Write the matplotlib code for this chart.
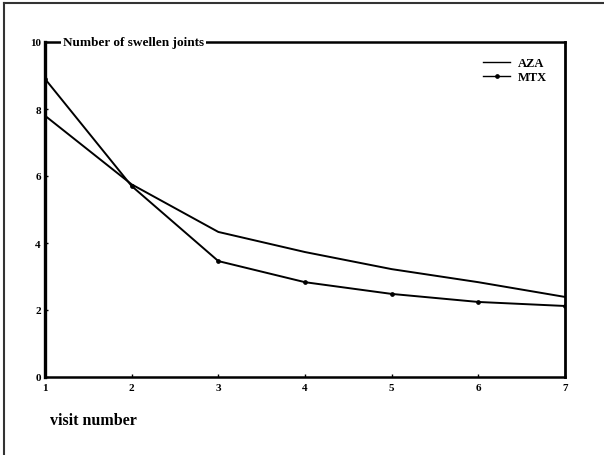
import matplotlib
matplotlib.use("Agg")
import matplotlib.pyplot as plt
from matplotlib.lines import Line2D

visits = [1, 2, 3, 4, 5, 6, 7]
aza = [7.8, 5.75, 4.33, 3.73, 3.22, 2.83, 2.39]
mtx = [8.9, 5.7, 3.46, 2.83, 2.48, 2.24, 2.12]
y_ticks = [0, 2, 4, 6, 8, 10]
x_ticks = [1, 2, 3, 4, 5, 6, 7]

serif = "Liberation Serif"
W, H = 604, 456
fig = plt.figure(figsize=(W / 100, H / 100), dpi=100)
fig.patch.set_facecolor("white")

ax = fig.add_axes([45 / W, 1 - 378 / H, 520 / W, 335 / H])
ax.set_xlim(1, 7)
ax.set_ylim(0, 10)

ax.plot(visits, aza, color="black", lw=1.4, solid_joinstyle="round")
ax.plot(visits, mtx, color="black", lw=1.4, marker="o", markersize=2.4,
        solid_joinstyle="round")

for side, lw in (("left", 2.4), ("bottom", 1.8), ("right", 2.0), ("top", 1.8)):
    ax.spines[side].set_linewidth(lw)
    ax.spines[side].set_color("black")

ax.set_xticks(x_ticks)
ax.set_yticks(y_ticks)
ax.set_xticklabels([str(v) for v in x_ticks], fontfamily=serif,
                   fontweight="bold", fontsize=8)
ax.set_yticklabels([str(v) for v in y_ticks], fontfamily=serif,
                   fontweight="bold", fontsize=8)
ax.tick_params(axis="both", direction="in", length=2, width=1, pad=3)
ax.tick_params(axis="x", pad=4)

# Title sits on the top frame line, breaking it
ax.text(0.035, 1.0, "Number of swellen joints", transform=ax.transAxes,
        ha="left", va="center", fontfamily=serif, fontsize=9.5,
        fontweight="bold",
        bbox=dict(facecolor="white", edgecolor="none", pad=1.5))

ax.set_xlabel("visit number", fontfamily=serif, fontsize=11.5,
              fontweight="bold")
ax.xaxis.set_label_coords(0.01, -0.105)
ax.xaxis.label.set_horizontalalignment("left")

handles = [
    Line2D([], [], color="black", lw=1.0),
    Line2D([], [], color="black", lw=1.0, marker="o", markersize=2.4),
]
leg = ax.legend(handles, ["AZA", "MTX"], loc="upper right",
                bbox_to_anchor=(0.975, 0.97), frameon=False,
                prop=dict(family=serif, size=9, weight="bold"),
                handlelength=2.2, handletextpad=0.6, labelspacing=0.15,
                borderaxespad=0)

# Outer border of the panel
fig.add_artist(Line2D([4 / W, 4 / W], [0, 1 - 4 / H], transform=fig.transFigure,
                      color="#333333", lw=1.5))
fig.add_artist(Line2D([4 / W, 1], [1 - 4 / H, 1 - 4 / H], transform=fig.transFigure,
                      color="#333333", lw=1.5))

fig.savefig("out.png", dpi=100, facecolor="white")
